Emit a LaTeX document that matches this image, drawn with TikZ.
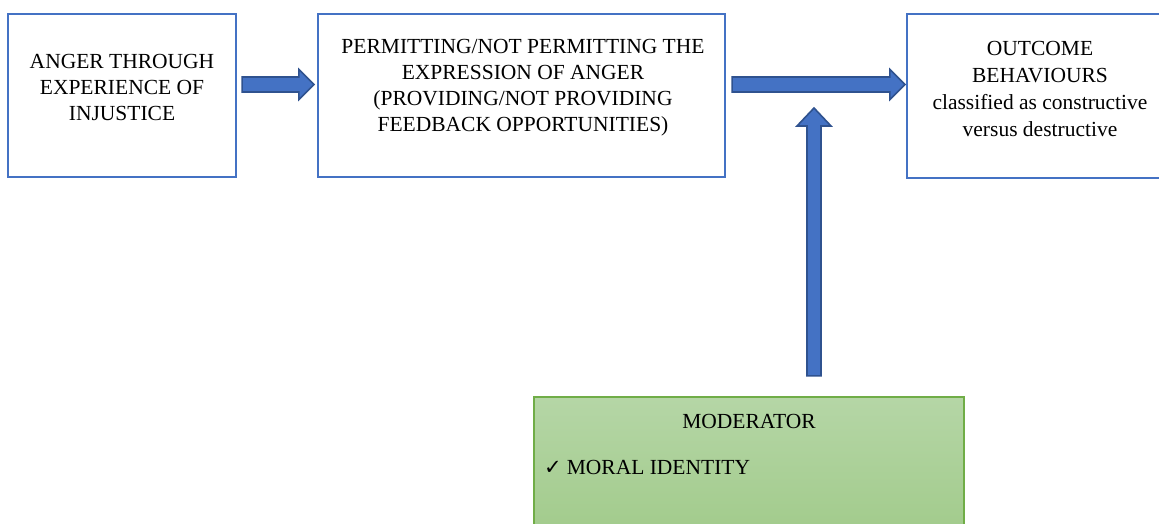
\documentclass[tikz,border=0pt]{standalone}
\usepackage{fontspec}
\setmainfont{Liberation Serif}
\newfontfamily\symfont{DejaVu Sans}
\usetikzlibrary{calc}

\definecolor{boxblue}{HTML}{4472C4}
\definecolor{arrowedge}{HTML}{2F528F}
\definecolor{modedge}{HTML}{70AD47}
\definecolor{modtop}{HTML}{B5D6A6}
\definecolor{modbottom}{HTML}{A0CA89}

\tikzset{
  flowbox/.style={draw=boxblue, line width=2.2pt, fill=white, inner sep=0pt},
  boxtext/.style={align=center, inner sep=0pt, font=\fontsize{21.5}{26}\selectfont},
  modbox/.style={draw=modedge, line width=2.2pt, top color=modtop, bottom color=modbottom, inner sep=0pt},
  blockarrow/.style={draw=arrowedge, fill=boxblue, line width=1.6pt, line join=miter}
}

% horizontal block arrow from #1 (tail) to #2 (tip)
\newcommand\hblockarrow[2]{%
  \draw[blockarrow] ($(#1)+(0,-7.5)$) -- ($(#2)+(-15,-7.5)$) -- ($(#2)+(-15,-15)$)
    -- (#2) -- ($(#2)+(-15,15)$) -- ($(#2)+(-15,7.5)$) -- ($(#1)+(0,7.5)$) -- cycle;}
% vertical block arrow from #1 (tail, below) to #2 (tip, above)
\newcommand\vblockarrow[2]{%
  \draw[blockarrow] ($(#1)+(-7,0)$) -- ($(#2)+(-7,18)$) -- ($(#2)+(-17,18)$)
    -- (#2) -- ($(#2)+(17,18)$) -- ($(#2)+(7,18)$) -- ($(#1)+(7,0)$) -- cycle;}

\begin{document}
\begin{tikzpicture}[x=1pt, y=-1pt]
  \useasboundingbox (0,0) rectangle (1159,523);

  % boxes
  \node[flowbox, minimum width=228pt, minimum height=163pt] (anger) at (122,95.5) {};
  \node[flowbox, minimum width=407pt, minimum height=163pt] (permit) at (521.5,95.5) {};
  \node[flowbox, minimum width=266pt, minimum height=164pt] (outcome) at (1040,96) {};
  \node[modbox, minimum width=430pt, minimum height=150pt] (moderator) at (749,472) {};

  % box texts
  \node[boxtext] (angertxt) at (122,87) {ANGER THROUGH\\EXPERIENCE OF\\INJUSTICE};
  \node[boxtext] (permittxt) at (523,88) {PERMITTING/NOT PERMITTING THE\\EXPRESSION OF ANGER\\(PROVIDING/NOT PROVIDING\\FEEDBACK OPPORTUNITIES)};
  \node[boxtext, font=\fontsize{21.5}{27}\selectfont] (outcometxt) at (1040,89) {OUTCOME\\BEHAVIOURS\\classified as constructive\\versus destructive};
  \node[boxtext] (modtitle) at (749,421) {MODERATOR};
  \node[boxtext, anchor=west] (moditem) at (544,467) {{\symfont\fontsize{21}{24}\selectfont ✓}\hspace{5pt}MORAL IDENTITY};

  % arrow end points
  \coordinate (a1s) at ($(anger.east)+(5,-11)$);
  \coordinate (a1t) at ($(permit.west)+(-3,-11)$);
  \coordinate (a2s) at ($(permit.east)+(6,-11)$);
  \coordinate (a2t) at ($(outcome.west)+(-1,-11.5)$);
  \coordinate (mbase) at ($(moderator.north)+(65,-20)$);
  \coordinate (mtip) at ($(mbase |- a2s)+(0,23.5)$);

  % connectors
  \hblockarrow{a1s}{a1t}
  \hblockarrow{a2s}{a2t}
  \vblockarrow{mbase}{mtip}
\end{tikzpicture}
\end{document}
